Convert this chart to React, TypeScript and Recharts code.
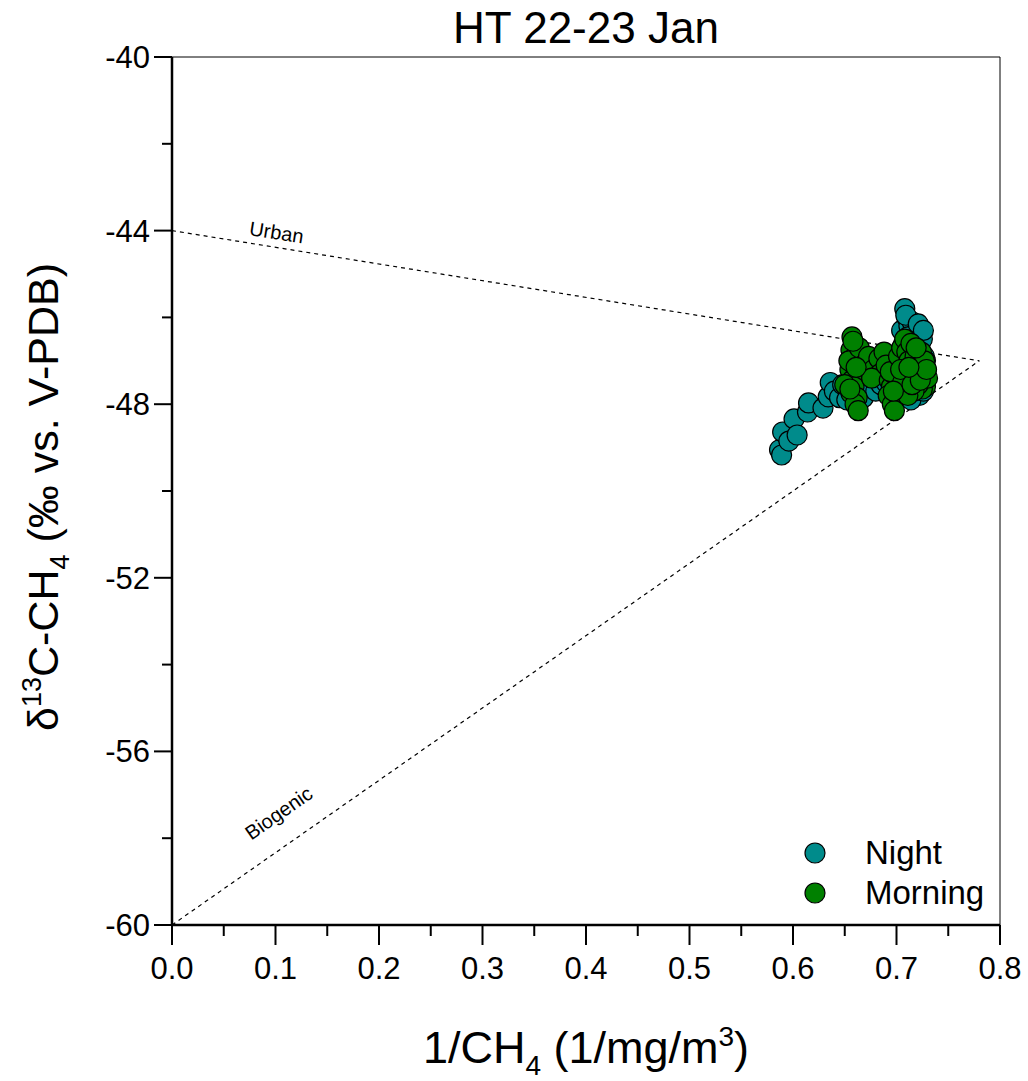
import React from 'react'
import {
  ScatterChart,
  Scatter,
  XAxis,
  YAxis,
  ReferenceLine,
} from 'recharts'

// 1/CH4 (x) and d13C-CH4 (y)
const nightX = [
  0.587, 0.589, 0.590, 0.596, 0.601, 0.604, 0.614, 0.615, 0.629, 0.634, 0.636,
  0.640, 0.645, 0.648, 0.652, 0.655, 0.660, 0.668, 0.672, 0.680, 0.685, 0.690,
  0.705, 0.708, 0.710, 0.712, 0.715, 0.718, 0.720, 0.723, 0.725, 0.727, 0.707,
  0.712, 0.716, 0.720, 0.724, 0.728, 0.722, 0.718, 0.714, 0.710, 0.706, 0.728,
  0.726, 0.700, 0.703, 0.709, 0.711, 0.714, 0.721, 0.726, 0.729,
]
const nightY = [
  -49.05, -49.17, -48.64, -48.85, -48.34, -48.71, -48.18, -47.97, -48.09, -47.83, -47.5,
  -47.7, -47.85, -47.55, -47.9, -47.6, -47.75, -47.85, -47.6, -47.7, -47.55, -47.5,
  -46.3, -45.8, -46.0, -46.2, -46.1, -46.4, -46.3, -46.6, -46.5, -46.9, -46.6,
  -46.8, -47.0, -47.2, -47.4, -47.5, -47.8, -47.6, -47.9, -47.4, -47.1, -47.0,
  -47.7, -46.9, -47.3, -45.95, -46.45, -46.7, -46.15, -46.3, -47.2,
]

const morningX = [
  0.657, 0.659, 0.656, 0.660, 0.658, 0.655, 0.661, 0.657, 0.659, 0.656, 0.662,
  0.660, 0.663, 0.654, 0.664, 0.650, 0.668, 0.673, 0.678, 0.683, 0.688, 0.684,
  0.676, 0.690, 0.693, 0.695, 0.692, 0.696, 0.698, 0.694, 0.702, 0.705, 0.708,
  0.710, 0.712, 0.714, 0.716, 0.718, 0.720, 0.722, 0.724, 0.726, 0.728, 0.725,
  0.721, 0.717, 0.713, 0.709, 0.706, 0.704, 0.711, 0.727, 0.730, 0.719,
  0.658, 0.661, 0.655, 0.697, 0.715, 0.723, 0.729, 0.712,
]
const morningY = [
  -46.45, -46.6, -46.75, -46.9, -47.05, -47.2, -47.3, -47.45, -47.6, -47.75, -47.85,
  -48.0, -48.15, -47.0, -46.7, -47.55, -47.1, -46.9, -47.2, -46.95, -46.8, -47.3,
  -47.4, -47.1, -47.45, -47.6, -47.8, -48.0, -48.15, -47.25, -46.9, -46.7, -46.5,
  -46.8, -47.0, -46.6, -47.2, -46.9, -47.4, -47.1, -46.8, -47.3, -47.6, -47.65,
  -47.55, -47.7, -47.4, -47.3, -47.5, -47.2, -47.8, -47.0, -47.4, -46.7,
  -46.55, -47.15, -47.65, -47.7, -47.55, -47.45, -47.2, -47.15,
]

const xTicks = [0, 0.05, 0.1, 0.15, 0.2, 0.25, 0.3, 0.35, 0.4, 0.45, 0.5, 0.55, 0.6, 0.65, 0.7, 0.75, 0.8]
const yTicks = [-60, -58, -56, -54, -52, -50, -48, -46, -44, -42, -40]

// mixing lines (end members)
const urbanLine = [{ x: 0, y: -44 }, { x: 0.78, y: -47 }]
const biogenicLine = [{ x: 0, y: -60 }, { x: 0.78, y: -47 }]
const urbanLabel = [{ x: 0.1, y: -44.2 }]
const biogenicLabel = [{ x: 0.107, y: -57.55 }]

const night = nightX.map((x, i) => ({ x, y: nightY[i] }))
const morning = morningX.map((x, i) => ({ x, y: morningY[i] }))

const FONT = 'Arial, "Liberation Sans", sans-serif'
const NIGHT = '#008b8b'
const MORNING = '#008000'

const isMajorX = (v: number) => Math.abs(v * 10 - Math.round(v * 10)) < 1e-6
const isMajorY = (v: number) => Math.abs((v + 60) % 4) < 1e-6

function XTick(props: any) {
  const { x, y, payload } = props
  const major = isMajorX(payload.value)
  return (
    <g>
      <line x1={x} x2={x} y1={y} y2={y + (major ? 20 : 11)} stroke="#000" strokeWidth={2} />
      {major && (
        <text x={x} y={y + 54} textAnchor="middle" fontSize={31} fontFamily={FONT} fill="#000">
          {payload.value.toFixed(1)}
        </text>
      )}
    </g>
  )
}

function YTick(props: any) {
  const { x, y, payload } = props
  const major = isMajorY(payload.value)
  return (
    <g>
      <line x1={x} x2={x - (major ? 18 : 10)} y1={y} y2={y} stroke="#000" strokeWidth={2} />
      {major && (
        <text x={x - 22} y={y + 11} textAnchor="end" fontSize={31} fontFamily={FONT} fill="#000">
          {payload.value}
        </text>
      )}
    </g>
  )
}

const Dot = (color: string) => (p: any) => (
  <circle cx={p.cx} cy={p.cy} r={10} fill={color} stroke="#000" strokeWidth={1.2} />
)

const LineText = (text: string, angle: number) => (p: any) => (
  <text
    x={p.cx}
    y={p.cy}
    transform={`rotate(${angle} ${p.cx} ${p.cy})`}
    textAnchor="middle"
    fontSize={20}
    fontFamily={FONT}
    fill="#000"
  >
    {text}
  </text>
)

function LegendBox() {
  const items = [
    { name: 'Night', color: NIGHT },
    { name: 'Morning', color: MORNING },
  ]
  return (
    <div style={{ position: 'absolute', left: 803, top: 833, fontFamily: FONT }}>
      {items.map(it => (
        <div key={it.name} style={{ display: 'flex', alignItems: 'center', height: 40 }}>
          <svg width={24} height={24}>
            <circle cx={12} cy={12} r={10} fill={it.color} stroke="#000" strokeWidth={1.2} />
          </svg>
          <span style={{ marginLeft: 38, fontSize: 33, color: '#000' }}>{it.name}</span>
        </div>
      ))}
    </div>
  )
}

export default function App() {
  return (
    <div style={{ position: 'absolute', left: 0, top: 0, width: 1028, height: 1081, background: '#fff' }}>
      <div
        style={{
          position: 'absolute',
          left: 172,
          width: 828,
          top: 3,
          textAlign: 'center',
          fontFamily: FONT,
          fontSize: 44,
          color: '#000',
        }}
      >
        HT 22-23 Jan
      </div>
      <ScatterChart
        width={1028}
        height={1081}
        margin={{ top: 57, right: 28, bottom: 0, left: 0 }}
        style={{ position: 'absolute', left: 0, top: 0 }}
      >
        <XAxis
          type="number"
          dataKey="x"
          domain={[0, 0.8]}
          ticks={xTicks}
          interval={0}
          height={156}
          tickSize={0}
          tickMargin={0}
          tickLine={false}
          tick={<XTick />}
          axisLine={{ stroke: '#000', strokeWidth: 2.5 }}
          allowDataOverflow
          label={{
            content: (p: any) => (
              <text
                x={p.viewBox.x + p.viewBox.width / 2}
                y={p.viewBox.y + 138}
                textAnchor="middle"
                fontSize={45}
                fontFamily={FONT}
                fill="#000"
              >
                1/CH
                <tspan fontSize={28} dy={12}>4</tspan>
                <tspan dy={-12}> (1/mg/m</tspan>
                <tspan fontSize={28} dy={-17}>3</tspan>
                <tspan dy={17}>)</tspan>
              </text>
            ),
          }}
        />
        <YAxis
          type="number"
          dataKey="y"
          domain={[-60, -40]}
          ticks={yTicks}
          interval={0}
          width={172}
          tickSize={0}
          tickMargin={0}
          tickLine={false}
          tick={<YTick />}
          axisLine={{ stroke: '#000', strokeWidth: 2.5 }}
          allowDataOverflow
          label={{
            content: (p: any) => {
              const cx = 58
              const cy = p.viewBox.y + p.viewBox.height / 2 + 6
              return (
                <text
                  x={cx}
                  y={cy}
                  transform={`rotate(-90 ${cx} ${cy})`}
                  textAnchor="middle"
                  fontSize={43}
                  fontFamily={FONT}
                  fill="#000"
                >
                  δ
                  <tspan fontSize={27} dy={-17}>13</tspan>
                  <tspan dy={17}>C-CH</tspan>
                  <tspan fontSize={27} dy={11}>4</tspan>
                  <tspan dy={-11}> (‰ vs. V-PDB)</tspan>
                </text>
              )
            },
          }}
        />
        <ReferenceLine y={-40} stroke="#000" strokeWidth={1} />
        <ReferenceLine x={0.8} stroke="#000" strokeWidth={1} />
        <ReferenceLine segment={urbanLine} stroke="#000" strokeWidth={1.2} strokeDasharray="4 4" />
        <ReferenceLine segment={biogenicLine} stroke="#000" strokeWidth={1.2} strokeDasharray="4 4" />
        <Scatter data={urbanLabel} shape={LineText('Urban', 9)} legendType="none" isAnimationActive={false} />
        <Scatter data={biogenicLabel} shape={LineText('Biogenic', -35)} legendType="none" isAnimationActive={false} />
        <Scatter name="Night" data={night} shape={Dot(NIGHT)} isAnimationActive={false} />
        <Scatter name="Morning" data={morning} shape={Dot(MORNING)} isAnimationActive={false} />
      </ScatterChart>
      <LegendBox />
    </div>
  )
}
